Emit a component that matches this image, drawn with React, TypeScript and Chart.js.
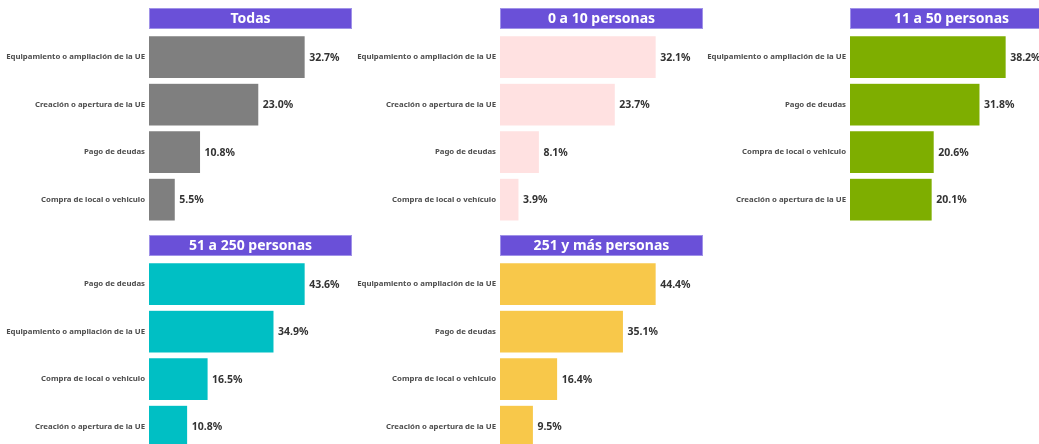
import React, { useEffect, useRef } from "react";
import { Chart, registerables } from "chart.js";

Chart.register(...registerables);

const panelTitles = ["Todas", "0 a 10 personas", "11 a 50 personas", "51 a 250 personas", "251 y más personas"];

const todasCategories = ["Equipamiento o ampliación de la UE", "Creación o apertura de la UE", "Pago de deudas", "Compra de local o vehiculo"];
const todasValues = [32.7, 23.0, 10.8, 5.5];

const micro010Categories = ["Equipamiento o ampliación de la UE", "Creación o apertura de la UE", "Pago de deudas", "Compra de local o vehículo"];
const micro010Values = [32.1, 23.7, 8.1, 3.9];

const small1150Categories = ["Equipamiento o ampliación de la UE", "Pago de deudas", "Compra de local o vehiculo", "Creación o apertura de la UE"];
const small1150Values = [38.2, 31.8, 20.6, 20.1];

const medium51250Categories = ["Pago de deudas", "Equipamiento o ampliación de la UE", "Compra de local o vehiculo", "Creación o apertura de la UE"];
const medium51250Values = [43.6, 34.9, 16.5, 10.8];

const large251Categories = ["Equipamiento o ampliación de la UE", "Pago de deudas", "Compra de local o vehiculo", "Creación o apertura de la UE"];
const large251Values = [44.4, 35.1, 16.4, 9.5];

const panelCategories = [todasCategories, micro010Categories, small1150Categories, medium51250Categories, large251Categories];
const panelValues = [todasValues, micro010Values, small1150Values, medium51250Values, large251Values];
const panelColors = ["#7f7f7f", "#ffe1e1", "#7eae00", "#00bfc4", "#f8c84a"];

const panelColumns = [0, 1, 2, 0, 1];
const panelRows = [0, 0, 0, 1, 1];
const columnPlotLefts = [149, 500, 850];
const rowTops = [8, 235];

const AXIS_W = 149;
const PLOT_W = 203;
const CANVAS_H = 224;
const PAD_TOP = 25.3;
const PAD_BOTTOM = 5.8;
const STRIP_H = 21;

const stripPlugin = {
  id: "stripAndLabels",
  afterDraw(chart: any, _args: any, opts: any) {
    const { ctx, chartArea } = chart;
    ctx.save();
    const left = chartArea.left;
    const w = chartArea.right - chartArea.left;
    const top = chartArea.top - PAD_TOP;
    ctx.fillStyle = "#6a50d8";
    ctx.fillRect(left, top, w, STRIP_H);
    ctx.strokeStyle = "#a092e8";
    ctx.lineWidth = 1;
    ctx.strokeRect(left + 0.5, top + 0.5, w - 1, STRIP_H - 1);
    ctx.fillStyle = "#ffffff";
    ctx.font = "bold 14px 'Noto Sans'";
    ctx.textAlign = "center";
    ctx.textBaseline = "middle";
    ctx.fillText(opts.text, left + w / 2, top + STRIP_H / 2 + 0.5);

    const meta = chart.getDatasetMeta(0);
    const vals = chart.data.datasets[0].data;
    ctx.fillStyle = "#333333";
    ctx.font = "bold 10.5px 'Noto Sans'";
    ctx.textAlign = "left";
    meta.data.forEach((bar: any, i: number) => {
      ctx.fillText(Number(vals[i]).toFixed(1) + "%", bar.x + 4, bar.y + 0.5);
    });
    ctx.restore();
  },
};

function Panel({ idx }: { idx: number }) {
  const ref = useRef<HTMLCanvasElement>(null);
  useEffect(() => {
    if (!ref.current) return;
    const values = panelValues[idx];
    const maxV = Math.max(...values);
    const chart = new Chart(ref.current, {
      type: "bar",
      data: {
        labels: panelCategories[idx],
        datasets: [
          {
            data: values,
            backgroundColor: panelColors[idx],
            borderColor: "rgba(255,255,255,0.6)",
            borderWidth: 0.5,
            barPercentage: 0.9,
            categoryPercentage: 1,
          },
        ],
      },
      options: {
        indexAxis: "y",
        animation: false,
        responsive: false,
        maintainAspectRatio: false,
        devicePixelRatio: 1,
        layout: { padding: { top: PAD_TOP, bottom: PAD_BOTTOM, left: 0, right: 0 } },
        plugins: {
          legend: { display: false },
          tooltip: { enabled: false },
          stripAndLabels: { text: panelTitles[idx] },
        } as any,
        scales: {
          x: {
            display: false,
            min: 0,
            max: maxV * 1.3,
          },
          y: {
            offset: true,
            grid: { display: false, drawTicks: false },
            border: { display: false },
            ticks: {
              padding: 4,
              color: "#4d4d4d",
              font: { family: "'Noto Sans'", size: 7.8, weight: "bold" },
              autoSkip: false,
            },
            afterFit: (scale: any) => {
              scale.width = AXIS_W;
            },
          },
        },
      },
      plugins: [stripPlugin],
    });
    return () => chart.destroy();
  }, [idx]);

  const left = columnPlotLefts[panelColumns[idx]] - AXIS_W;
  const top = rowTops[panelRows[idx]];
  const w = AXIS_W + PLOT_W;
  return (
    <canvas
      ref={ref}
      width={w}
      height={CANVAS_H}
      style={{ position: "absolute", left, top, width: w, height: CANVAS_H }}
    />
  );
}

export default function App() {
  return (
    <div
      style={{
        position: "fixed",
        left: 0,
        top: 0,
        width: 1039,
        height: 444,
        overflow: "hidden",
        background: "#ffffff",
      }}
    >
      {panelTitles.map((_, i) => (
        <Panel key={i} idx={i} />
      ))}
    </div>
  );
}
